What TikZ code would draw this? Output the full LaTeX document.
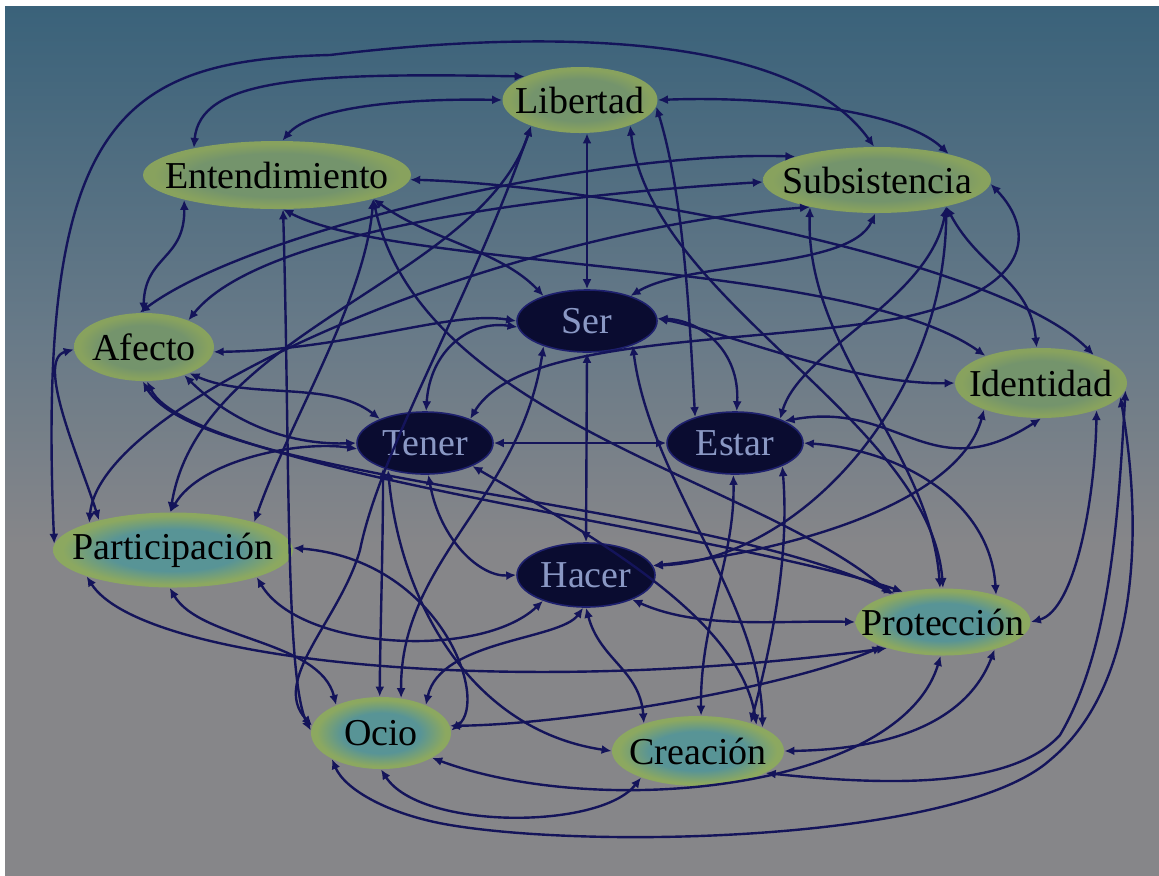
\documentclass[tikz,border=0pt]{standalone}
\usepackage{fontspec}
\setmainfont{Liberation Serif}
\usetikzlibrary{shapes.geometric,arrows.meta}

% palette
\definecolor{bgtop}{RGB}{58,98,122}
\definecolor{bgmid}{RGB}{104,122,136}
\definecolor{bgbot}{RGB}{134,134,137}
\definecolor{upcore}{RGB}{116,148,108}
\definecolor{uprim}{RGB}{136,162,94}
\definecolor{lowcore}{RGB}{88,148,150}
\definecolor{lowrim}{RGB}{140,168,96}
\definecolor{darkfill}{RGB}{10,12,48}
\definecolor{darkedge}{RGB}{30,32,110}
\definecolor{darktext}{RGB}{138,152,196}
\definecolor{linkc}{RGB}{20,20,90}

% a shaded path is fitted to the central 50bp of a 100bp shading
\pgfdeclareverticalshading{skyfade}{100bp}{color(0bp)=(bgbot); color(25bp)=(bgbot); color(44bp)=(bgbot); color(56bp)=(bgmid); color(75bp)=(bgtop); color(100bp)=(bgtop)}
\pgfdeclareradialshading{uphalo}{\pgfpoint{0bp}{0bp}}{color(0bp)=(upcore); color(16bp)=(upcore); color(23bp)=(uprim); color(25bp)=(uprim); color(50bp)=(uprim)}
\pgfdeclareradialshading{lowhalo}{\pgfpoint{0bp}{0bp}}{color(0bp)=(lowcore); color(14bp)=(lowcore); color(23bp)=(lowrim); color(25bp)=(lowrim); color(50bp)=(lowrim)}

\tikzset{
  needtxt/.style={font=\fontsize{19}{19}\selectfont, text=black, inner sep=0pt},
  coretxt/.style={font=\fontsize{19}{19}\selectfont, text=darktext, inner sep=0pt},
  upneed/.style={ellipse, shade, shading=uphalo, inner sep=0pt},
  lowneed/.style={ellipse, shade, shading=lowhalo, inner sep=0pt},
  coreneed/.style={ellipse, fill=darkfill, draw=darkedge, line width=0.8pt, inner sep=0pt},
  link/.style={draw=linkc, line width=1.2pt, {Latex[length=5pt,width=4.5pt]}-{Latex[length=5pt,width=4.5pt]}},
}

\begin{document}
\begin{tikzpicture}[x=0.5pt,y=-0.5pt]
\useasboundingbox (0,0) rectangle (1159,875);
\fill[white] (0,0) rectangle (1159,875);
\shade[shading=skyfade] (5,6) rectangle (1159,875);

% needs (outer ring)
\node[upneed, minimum width=77.5pt, minimum height=33pt, label={[needtxt]center:Libertad}] (L) at (580,100) {};
\node[upneed, minimum width=134pt, minimum height=34pt, label={[needtxt]center:Entendimiento}] (E) at (277,175) {};
\node[upneed, minimum width=114pt, minimum height=33pt, label={[needtxt]center:Subsistencia}] (S) at (877,180) {};
\node[upneed, minimum width=70pt, minimum height=34pt, label={[needtxt]center:Afecto}] (A) at (144,347) {};
\node[upneed, minimum width=86pt, minimum height=35pt, label={[needtxt]center:Identidad}] (I) at (1041,383) {};
\node[lowneed, minimum width=120pt, minimum height=37.5pt, label={[needtxt]center:Participación}] (P) at (173,550) {};
\node[lowneed, minimum width=87.5pt, minimum height=33.5pt, label={[needtxt]center:Protección}] (Pr) at (943,622) {};
\node[lowneed, minimum width=70pt, minimum height=36pt, label={[needtxt]center:Ocio}] (O) at (381,733) {};
\node[lowneed, minimum width=86pt, minimum height=35pt, label={[needtxt]center:Creación}] (C) at (698,751) {};

% existential categories (core)
\node[coreneed, minimum width=70pt, minimum height=31pt, label={[coretxt]center:Ser}] (Se) at (587,321) {};
\node[coreneed, minimum width=68pt, minimum height=31pt, label={[coretxt]center:Tener}] (T) at (425,443) {};
\node[coreneed, minimum width=68pt, minimum height=31pt, label={[coretxt]center:Estar}] (Es) at (735,443) {};
\node[coreneed, minimum width=69pt, minimum height=32pt, label={[coretxt]center:Hacer}] (H) at (586,575) {};

% connectors
\draw[link] (P.177) .. controls (36,120) and (120,60) .. (330,55) .. controls (470,38) and (780,15) .. (S.95);
\draw[link] (E.162) .. controls (200,80) and (300,72) .. (L.157);
\draw[link] (E.81) .. controls (310,108) and (400,98) .. (L.180);
\draw[link] (L.0) .. controls (760,96) and (900,108) .. (S.20);
\draw[link] (L.355) .. controls (685,200) and (690,330) .. (Es.147);
\draw[link] (L.south -| Se.north) -- (Se.north);
\draw[link] (Se.south) -- (H.north);
\draw[link] (T.east) -- (Es.west);
\draw[link] (E.358) .. controls (600,185) and (1000,260) .. (I.28);
\draw[link] (E.195) .. controls (185,260) and (145,255) .. (A.91);
\draw[link] (E.280) .. controls (290,450) and (285,680) .. (O.178);
\draw[link] (E.280) .. controls (400,270) and (850,260) .. (I.154);
\draw[link] (E.346) .. controls (365,300) and (290,420) .. (P.19);
\draw[link] (E.346) .. controls (430,240) and (500,250) .. (Se.150);
\draw[link] (E.346) .. controls (420,420) and (760,480) .. (Pr.152);
\draw[link] (A.97) .. controls (250,230) and (600,150) .. (S.164);
\draw[link] (A.31) .. controls (260,230) and (550,195) .. (S.181);
\draw[link] (S.358) .. controls (1035,230) and (1035,290) .. (900,318) .. controls (750,345) and (520,335) .. (T.28);
\draw[link] (P.162) .. controls (100,400) and (500,230) .. (S.202);
\draw[link] (S.202) .. controls (805,350) and (930,450) .. (Pr.95);
\draw[link] (S.267) .. controls (850,270) and (690,260) .. (Se.30);
\draw[link] (S.339) .. controls (930,300) and (800,350) .. (Es.28);
\draw[link] (S.339) .. controls (980,270) and (1030,280) .. (I.97);
\draw[link] (S.339) .. controls (945,400) and (800,560) .. (H.8);
\draw[link] (L.333) .. controls (650,300) and (930,420) .. (Pr.90);
\draw[link] (L.208) .. controls (480,280) and (200,330) .. (P.94);
\draw[link] (L.208) .. controls (470,300) and (380,450) .. (360,550) .. controls (340,620) and (270,680) .. (O.174);
\draw[link] (Se.2) .. controls (700,320) and (740,350) .. (Es.87);
\draw[link] (Se.2) .. controls (720,330) and (850,385) .. (I.180);
\draw[link] (A.356) .. controls (350,350) and (450,310) .. (Se.180);
\draw[link] (T.88) .. controls (430,350) and (470,320) .. (Se.185);
\draw[link] (A.330) .. controls (250,400) and (330,380) .. (T.152);
\draw[link] (A.325) .. controls (240,430) and (300,445) .. (T.180);
\draw[link] (P.94) .. controls (200,460) and (300,440) .. (T.185);
\draw[link] (P.1) .. controls (440,560) and (490,700) .. (O.2);
\draw[link] (Pr.202) .. controls (780,690) and (560,725) .. (O.6);
\draw[link] (P.197) .. controls (140,660) and (500,700) .. (Pr.205);
\draw[link] (P.265) .. controls (200,640) and (320,640) .. (O.148);
\draw[link] (P.342) .. controls (300,650) and (480,660) .. (H.211);
\draw[link] (Pr.266) .. controls (900,790) and (600,820) .. (O.334);
\draw[link] (Pr.332) .. controls (960,740) and (850,750) .. (C.0);
\draw[link] (I.355) .. controls (1118,520) and (1110,650) .. (1060,735) .. controls (1010,790) and (880,785) .. (C.342);
\draw[link] (I.350) .. controls (1145,540) and (1135,690) .. (1050,760) .. controls (960,840) and (600,850) .. (450,825) .. controls (390,815) and (345,790) .. (O.208);
\draw[link] (I.334) .. controls (1095,500) and (1075,610) .. (Pr.0);
\draw[link] (H.8) .. controls (800,550) and (960,500) .. (I.205);
\draw[link] (Es.24) .. controls (900,400) and (930,490) .. (I.270);
\draw[link] (Es.0) .. controls (900,450) and (990,500) .. (Pr.27);
\draw[link] (Es.267) .. controls (735,560) and (700,620) .. (C.85);
\draw[link] (Es.334) .. controls (790,560) and (770,650) .. (C.28);
\draw[link] (T.334) .. controls (600,540) and (740,620) .. (C.24);
\draw[link] (Se.332) .. controls (650,480) and (760,600) .. (C.20);
\draw[link] (T.211) .. controls (383,550) and (380,640) .. (O.92);
\draw[link] (T.216) .. controls (400,600) and (470,730) .. (C.180);
\draw[link] (T.276) .. controls (440,540) and (480,577) .. (H.180);
\draw[link] (Se.210) .. controls (520,500) and (400,560) .. (O.60);
\draw[link] (H.270) .. controls (600,660) and (640,670) .. (C.153);
\draw[link] (H.265) .. controls (560,640) and (440,640) .. (O.32);
\draw[link] (H.332) .. controls (700,630) and (780,620) .. (Pr.180);
\draw[link] (O.270) .. controls (420,830) and (600,830) .. (C.205);
\draw[link] (A.182) .. controls (35,360) and (80,460) .. (P.158);
\draw[link] (A.268) .. controls (200,480) and (700,500) .. (Pr.150);
\draw[link] (A.275) .. controls (190,470) and (720,530) .. (Pr.143);
\end{tikzpicture}
\end{document}
